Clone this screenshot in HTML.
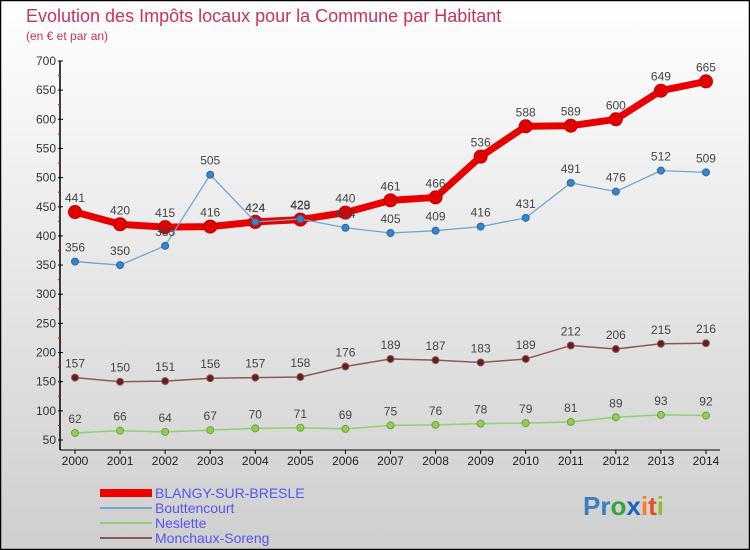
<!DOCTYPE html>
<html><head><meta charset="utf-8"><style>
body{margin:0;width:750px;height:550px;overflow:hidden;font-family:"Liberation Sans",sans-serif}
svg{display:block}
</style></head><body>
<svg id="chart" width="750" height="550">
<defs><linearGradient id="bg" x1="0" y1="0" x2="0" y2="1"><stop offset="0" stop-color="#ffffff"/><stop offset="0.85" stop-color="#d6d6d6"/><stop offset="1" stop-color="#cfcfcf"/></linearGradient></defs>
<rect x="0" y="0" width="750" height="550" fill="url(#bg)"/>
<rect x="0.5" y="0.5" width="749" height="549" fill="none" stroke="#000" stroke-width="1.5"/>
<text x="26" y="22" font-size="18" fill="#c8325f">Evolution des Impôts locaux pour la Commune par Habitant</text>
<text x="26" y="40" font-size="12" fill="#c8325f">(en € et par an)</text>
<g id="axes"></g><g id="series"></g>
<g>
<rect x="100" y="489" width="52" height="8" fill="#e00"/>
<text x="155" y="498" font-size="14" fill="#5555ee">BLANGY-SUR-BRESLE</text>
<line x1="100" y1="508" x2="152" y2="508" stroke="#6fa6cc" stroke-width="2"/>
<text x="155" y="513" font-size="14" fill="#5555ee">Bouttencourt</text>
<line x1="100" y1="523" x2="152" y2="523" stroke="#90d070" stroke-width="2"/>
<text x="155" y="528" font-size="14" fill="#5555ee">Neslette</text>
<line x1="100" y1="538" x2="152" y2="538" stroke="#8a5a5a" stroke-width="2"/>
<text x="155" y="543" font-size="14" fill="#5555ee">Monchaux-Soreng</text>
</g>
<text x="583" y="515" font-size="26" font-weight="bold"><tspan fill="#3a7fc0">Pr</tspan><tspan fill="#3aa040">o</tspan><tspan fill="#2060c0">x</tspan><tspan fill="#f08020">i</tspan><tspan fill="#e05020">t</tspan><tspan fill="#90c030">i</tspan></text>
</svg>
<script>
const years=[2000,2001,2002,2003,2004,2005,2006,2007,2008,2009,2010,2011,2012,2013,2014];
const blangy=[441,420,415,416,424,428,440,461,466,536,588,589,600,649,665];
const bouttencourt=[356,350,383,505,424,429,414,405,409,416,431,491,476,512,509];
const neslette=[62,66,64,67,70,71,69,75,76,78,79,81,89,93,92];
const monchaux=[157,150,151,156,157,158,176,189,187,183,189,212,206,215,216];
const yTicks=[50,100,150,200,250,300,350,400,450,500,550,600,650,700];
const NS="http://www.w3.org/2000/svg";
function x(i){return 75+i*45.07;}
function y(v){return 440-(v-50)*0.5831;}
function mk(tag,at,parent){const e=document.createElementNS(NS,tag);for(const k in at)e.setAttribute(k,at[k]);parent.appendChild(e);return e;}
const ax=document.getElementById('axes');
const yl=mk('line',{x1:60,y1:y(700),x2:60,y2:450,stroke:'#000','stroke-width':1.5},ax);


const xl=mk('line',{x1:60,y1:450,x2:720,y2:450,stroke:'#000','stroke-width':1},ax);


yTicks.forEach(v=>{
 mk('line',{x1:58,y1:y(v),x2:63,y2:y(v),stroke:'#000'},ax);
 if(v<700)mk('line',{x1:58,y1:y(v+25),x2:61,y2:y(v+25),stroke:'#e00'},ax);
 const t=mk('text',{x:56,y:y(v)+4,'font-size':12,fill:'#333','text-anchor':'end'},ax);
 t.textContent=v;
 
 
});
years.forEach((yr,i)=>{
 mk('line',{x1:x(i),y1:450,x2:x(i),y2:454,stroke:'#000'},ax);
 const t=mk('text',{x:x(i),y:465,'font-size':12,fill:'#222','text-anchor':'middle'},ax);
 t.textContent=yr;
 
 
});
const sg=document.getElementById('series');
function draw(vals,name,color,lw,r,pc,lc){
 const g=mk('g',{},sg);
 
 
 const p=mk('polyline',{points:vals.map((v,i)=>x(i)+','+y(v)).join(' '),fill:'none',stroke:color,'stroke-width':lw,'stroke-linejoin':'round'},g);
 
 
 vals.forEach((v,i)=>{
  const c=mk('circle',{cx:x(i),cy:y(v),r:r,fill:pc,stroke:lc,'stroke-width':1},g);
  
  
  const t=mk('text',{x:x(i),y:y(v)-10,'font-size':12,fill:'#444','text-anchor':'middle'},g);
  t.textContent=v;
  
  
 });
}
draw(neslette,'neslette','#90d070',1.5,3.5,'#90d050','#70a040');
draw(monchaux,'monchaux','#8a5a5a',1.5,3.5,'#6a1a1a','#8a5a5a');
draw(blangy,'blangy','#e80000',7,6.5,'#e00000','#c00000');
draw(bouttencourt,'bouttencourt','#6fa6cc',1.3,3.5,'#3a85c8','#2a65a8');
</script>
</body></html>
